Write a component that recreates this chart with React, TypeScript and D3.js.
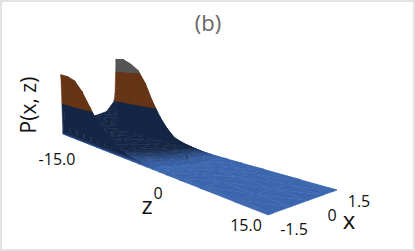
import * as d3 from 'd3';

const width = 415;
const height = 251;

// grid nodes of the surface
const zNodes = [-15, -14, -13, -12, -11, -10, -9, -8, -7, -6, -5, -4, -3, -2, -1, 0, 2, 5, 10, 15];
const xNodes = [-1.5, -1.4, -1.3, -0.5, 0.25, 0.885, 1.28, 1.34, 1.4, 1.5];

// P(x, z), one row per x node
const pEdgeLow = [0, 0, 0, 0, 0, 0, 0, 0, 0, 0, 0, 0, 0, 0, 0, 0, 0, 0, 0, 0];
const pRidgeLow = [0.8, 0.79, 0.75, 0.63, 0.46, 0.3, 0.2, 0.12, 0.06, 0.03, 0.018, 0.011, 0.006, 0.003, 0.002, 0.001, 0.001, 0.001, 0, 0];
const pRowA = [0.1, 0.1, 0.1, 0.1, 0.09, 0.08, 0.06, 0.035, 0.022, 0.014, 0.009, 0.005, 0.003, 0.002, 0.001, 0.001, 0.001, 0, 0, 0];
const pRowB = [0.15, 0.15, 0.14, 0.13, 0.12, 0.11, 0.09, 0.06, 0.035, 0.024, 0.016, 0.01, 0.006, 0.003, 0.002, 0.001, 0.001, 0, 0, 0];
const pRowC = [0.21, 0.2, 0.19, 0.18, 0.16, 0.14, 0.12, 0.085, 0.055, 0.034, 0.024, 0.015, 0.009, 0.005, 0.003, 0.001, 0.001, 0, 0, 0];
const pRowD = [0.26, 0.25, 0.23, 0.21, 0.19, 0.16, 0.13, 0.1, 0.07, 0.042, 0.028, 0.018, 0.01, 0.005, 0.003, 0.001, 0.001, 0, 0, 0];
const pRowE = [0.4, 0.35, 0.32, 0.29, 0.25, 0.21, 0.16, 0.12, 0.08, 0.05, 0.033, 0.02, 0.011, 0.005, 0.003, 0.001, 0.001, 0, 0, 0];
const pRowF = [0.5, 0.41, 0.37, 0.33, 0.29, 0.25, 0.19, 0.15, 0.085, 0.055, 0.036, 0.022, 0.012, 0.006, 0.003, 0.001, 0.001, 0, 0, 0];
const pRidgeHigh = [1.03, 1.03, 0.97, 0.89, 0.72, 0.49, 0.31, 0.18, 0.09, 0.058, 0.038, 0.024, 0.012, 0.004, 0.002, 0.002, 0.002, 0.002, 0.002, 0];
const pEdgeHigh = [0, 0, 0, 0, 0, 0, 0, 0, 0, 0, 0, 0, 0, 0, 0, 0, 0, 0, 0, 0];
const pRows = [pEdgeLow, pRidgeLow, pRowA, pRowB, pRowC, pRowD, pRowE, pRowF, pRidgeHigh, pEdgeHigh];

// the little spike sitting on the flat part
const spikeX = [0.41];
const spikeZ = [-2.5];
const spikeP = [0.035];

// colour bands
const bandEdges = [0, 0.003, 0.006, 0.009, 0.012, 0.016, 0.02, 0.025, 0.03, 0.41, 0.85, 2];
const lowColor = '#3b66ae';
const midColor = '#152645';
const brown = '#663515';
const grey = '#555555';

const zTicks = ['-15.0', '0', '15.0'];
const xTicks = ['-1.5', '0', '1.5'];

// base plane corners are carried by four scales
const nearX = d3.scaleLinear().domain([-15, 15]).range([63, 268]);
const nearY = d3.scaleLinear().domain([-15, 15]).range([134, 215]);
const farX = d3.scaleLinear().domain([-15, 15]).range([118, 337]);
const farY = d3.scaleLinear().domain([-15, 15]).range([128, 190]);
const across = d3.scaleLinear().domain([-1.5, 1.5]).range([0, 1]);
const rise = d3.scaleLinear().domain([0, 1]).range([0, 74]);
const grow = d3.scaleLinear().domain([-15, 15]).range([1, 1.8]);

function project(x: number, z: number, p: number): [number, number] {
  const u = across(x);
  const h = rise(p) * grow(z) * (1 - 0.1 * u);
  const bx = nearX(z) + (farX(z) - nearX(z)) * u;
  const by = nearY(z) + (farY(z) - nearY(z)) * u;
  return [bx - 0.07 * h * (1 - u), by - h];
}

type Vert = { x: number; z: number; p: number };

function clip(poly: Vert[], level: number, keepAbove: boolean): Vert[] {
  const out: Vert[] = [];
  const inside = (v: Vert) => (keepAbove ? v.p >= level : v.p <= level);
  poly.forEach((a, i) => {
    const b = poly[(i + 1) % poly.length];
    if (inside(a)) out.push(a);
    if (inside(a) !== inside(b)) {
      const t = (level - a.p) / (b.p - a.p);
      out.push({ x: a.x + (b.x - a.x) * t, z: a.z + (b.z - a.z) * t, p: level });
    }
  });
  return out;
}

function bandColor(i: number) {
  if (i === bandEdges.length - 2) return grey;
  if (i === bandEdges.length - 3) return brown;
  return d3.interpolateRgb(lowColor, midColor)(i / (bandEdges.length - 4));
}

function buildCells() {
  const line = d3.line();
  const cells: { d: string; color: string }[] = [];
  // far rows first so the near ridge paints over them; inside a row, low bands first
  for (let r = xNodes.length - 2; r >= 0; r--) {
    for (let b = 0; b < bandEdges.length - 1; b++) {
      for (let c = 0; c < zNodes.length - 1; c++) {
        const v00 = { x: xNodes[r], z: zNodes[c], p: pRows[r][c] };
        const v01 = { x: xNodes[r], z: zNodes[c + 1], p: pRows[r][c + 1] };
        const v11 = { x: xNodes[r + 1], z: zNodes[c + 1], p: pRows[r + 1][c + 1] };
        const v10 = { x: xNodes[r + 1], z: zNodes[c], p: pRows[r + 1][c] };
        [[v00, v01, v11], [v00, v11, v10]].forEach(tri => {
          const piece = clip(clip(tri, bandEdges[b], true), bandEdges[b + 1], false);
          if (piece.length < 3) return;
          const d = line(piece.map(v => project(v.x, v.z, v.p))) + 'Z';
          cells.push({ d, color: bandColor(b) });
        });
      }
    }
  }
  return cells;
}

const font = '"Open Sans", sans-serif';
const tickFont = { fontFamily: font, fontSize: 16, fill: '#111', textAnchor: 'middle' as const };

export default function App() {
  const cells = buildCells();
  const zLabelPos = [[57, 165], [158, 199], [246, 231]];
  const xLabelPos = [[294, 235], [332, 221], [359, 207]];
  const spike = d3.line()(spikeX.map((x, i) => project(x, spikeZ[i], 0)).concat(spikeX.map((x, i) => project(x, spikeZ[i], spikeP[i]))));

  return (
    <svg width={width} height={height} style={{ position: 'absolute', left: 0, top: 0, background: '#fff' }}>
      <defs>
        <filter id="soft" x="-5%" y="-5%" width="110%" height="110%" colorInterpolationFilters="sRGB">
          <feGaussianBlur stdDeviation={0.4} />
        </filter>
      </defs>
      <rect x={1} y={1} width={width - 2} height={height - 2} fill="none" stroke="#e2e2e2" strokeWidth={2} />
      <text x={208} y={31} textAnchor="middle" fontFamily={font} fontSize={22} fill="#666">(b)</text>
      <g filter="url(#soft)">
        {cells.map((c, i) => (
          <path key={i} d={c.d} fill={c.color} stroke={c.color} strokeWidth={0.5} strokeLinejoin="round" />
        ))}
        <path d={spike ?? ''} stroke={midColor} strokeWidth={1} fill="none" />
      </g>
      <text transform="translate(36,105) rotate(-90)" textAnchor="middle" fontFamily={font} fontSize={21} fill="#111">P(x, z)</text>
      {zTicks.map((t, i) => (
        <text key={t} x={zLabelPos[i][0]} y={zLabelPos[i][1]} {...tickFont}>{t}</text>
      ))}
      {xTicks.map((t, i) => (
        <text key={t} x={xLabelPos[i][0]} y={xLabelPos[i][1]} {...tickFont}>{t}</text>
      ))}
      <text x={147} y={214} textAnchor="middle" fontFamily={font} fontSize={24} fill="#111">z</text>
      <text x={349} y={229} textAnchor="middle" fontFamily={font} fontSize={24} fill="#111">x</text>
    </svg>
  );
}
